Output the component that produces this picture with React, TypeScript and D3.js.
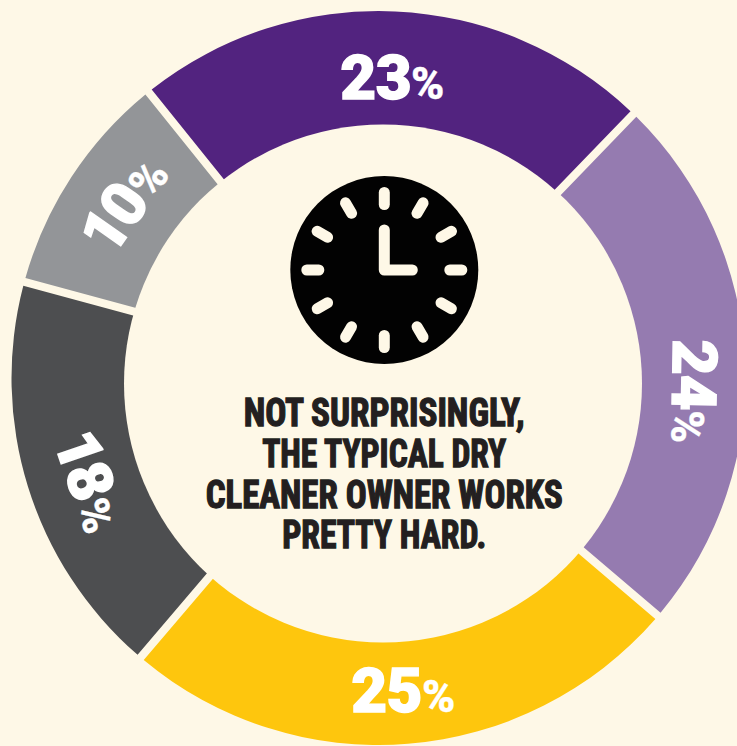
import React from "react";
import * as d3 from "d3";

const shares = [23, 24, 25, 18, 10];
const sliceColors = ["#52237f", "#957bb0", "#fec60d", "#4d4e50", "#939598"];
const headline = ["NOT SURPRISINGLY,", "THE TYPICAL DRY", "CLEANER OWNER WORKS", "PRETTY HARD."];

// Per-label placement along the ring: angular nudge, radius and text rotation
const labelNudges = [0, 5.2, 0.1, -2.6, 1.3];
const labelRadii = [301, 316, 313, 306, 309];
const labelTurns = [0, 91, 0, 71, -55];
const headlineWidths = [281, 244, 357, 204];

const W = 737;
const H = 746;
const outerCx = 378.5;
const outerCy = 378;
const outerR = 367;
const innerCx = 383;
const innerCy = 383.5;
const innerR = 259;
const cream = "#fef8e7";
const condensed = "'Roboto Condensed', 'Liberation Sans Narrow', Roboto, sans-serif";
const rad = (deg: number) => (deg * Math.PI) / 180;

export default function App() {
  const pie = d3.pie<number>().sort(null).startAngle(rad(-38.8)).endAngle(rad(321.2));
  const slices = pie(shares);
  // The hidden inner radius keeps the gaps parallel; the cream disc cuts the hole
  const arc = d3
    .arc<d3.PieArcDatum<number>>()
    .innerRadius(150)
    .outerRadius(outerR)
    .padAngle(0.023)
    .padRadius(350);

  // Twelve hour marks around the clock face
  const hourAngle = d3.scaleLinear().domain([0, 12]).range([0, 2 * Math.PI]);
  const clockX = 384.3;
  const clockY = 270;
  const hours = d3.range(12);

  return (
    <svg
      width={W}
      height={H}
      viewBox={`0 0 ${W} ${H}`}
      style={{ position: "absolute", left: 0, top: 0, display: "block" }}
    >
      <rect width={W} height={H} fill={cream} />
      <g transform={`translate(${outerCx},${outerCy})`}>
        {slices.map((s, i) => (
          <path key={i} d={arc(s) ?? ""} fill={sliceColors[i]} />
        ))}
      </g>
      <circle cx={innerCx} cy={innerCy} r={innerR} fill={cream} />
      <g transform={`translate(${outerCx},${outerCy})`}>
        {slices.map((s, i) => {
          const mid = (s.startAngle + s.endAngle) / 2 + rad(labelNudges[i]);
          const x = Math.sin(mid) * labelRadii[i];
          const y = -Math.cos(mid) * labelRadii[i];
          return (
            <text
              key={i}
              transform={`translate(${x},${y}) rotate(${labelTurns[i]})`}
              textAnchor="middle"
              dy={22}
              fill="#ffffff"
              stroke="#ffffff"
              strokeWidth={1.4}
              fontFamily="Roboto, sans-serif"
              fontWeight={900}
              fontSize={62}
              style={{ fontFeatureSettings: "'pnum'", letterSpacing: "-0.5px" }}
            >
              {s.data}
              <tspan fontSize={45} strokeWidth={0.3}>%</tspan>
            </text>
          );
        })}
      </g>

      <g transform={`translate(${clockX},${clockY})`}>
        <circle r={94} fill="#020202" />
        {hours.map((h) => {
          const a = hourAngle(h);
          const sin = Math.sin(a);
          const cos = Math.cos(a);
          return (
            <line
              key={h}
              x1={sin * 65.5}
              y1={-cos * 65.5}
              x2={sin * 77.5}
              y2={-cos * 77.5}
              stroke={cream}
              strokeWidth={11}
              strokeLinecap="round"
            />
          );
        })}
        <path
          d="M0,-40 L0,0 L28,0"
          fill="none"
          stroke={cream}
          strokeWidth={11}
          strokeLinecap="round"
          strokeLinejoin="round"
        />
      </g>

      {headline.map((line, i) => (
        <text
          key={line}
          x={384.2}
          y={425.7 + i * 40.9}
          textAnchor="middle"
          textLength={headlineWidths[i]}
          lengthAdjust="spacingAndGlyphs"
          fill="#231f20"
          stroke="#231f20"
          strokeWidth={1.3}
          fontFamily={condensed}
          fontWeight={700}
          fontSize={38.5}
        >
          {line}
        </text>
      ))}
    </svg>
  );
}
